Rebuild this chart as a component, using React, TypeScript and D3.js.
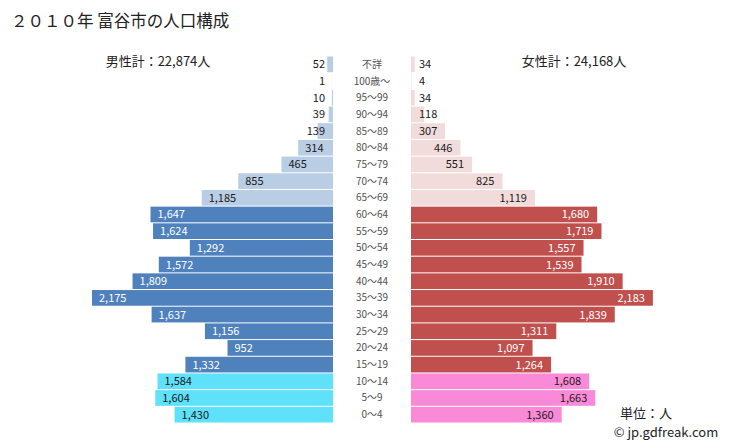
import React from "react";
import * as d3 from "d3";

const ageGroups = ["不詳", "100歳～", "95～99", "90～94", "85～89", "80～84", "75～79", "70～74", "65～69", "60～64", "55～59", "50～54", "45～49", "40～44", "35～39", "30～34", "25～29", "20～24", "15～19", "10～14", "5～9", "0～4"];
const maleValues = [52, 1, 10, 39, 139, 314, 465, 855, 1185, 1647, 1624, 1292, 1572, 1809, 2175, 1637, 1156, 952, 1332, 1584, 1604, 1430];
const femaleValues = [34, 4, 34, 118, 307, 446, 551, 825, 1119, 1680, 1719, 1557, 1539, 1910, 2183, 1839, 1311, 1097, 1264, 1608, 1663, 1360];
const title = "２０１０年 富谷市の人口構成";
const maleTotal = "男性計：22,874人";
const femaleTotal = "女性計：24,168人";

const W = 729, H = 446;
const maleRight = 333, femaleLeft = 411;
const FONT = "'Noto Sans CJK JP', 'Noto Sans', sans-serif";

function group(i: number) {
  if (i <= 8) return 0;
  if (i <= 18) return 1;
  return 2;
}
const maleColors = ["#b9cde5", "#4f81bd", "#5ee1f9"];
const femaleColors = ["#f2dcdb", "#c0504d", "#fa8ad8"];
const maleText = ["#1a1a1a", "#ffffff", "#1a1a1a"];
const femaleText = ["#1a1a1a", "#ffffff", "#1a1a1a"];

function fmt(v: number) { return d3.format(",")(v); }
function tw(s: string) { return s.length * 6.3; }

export default function App() {
  const y = d3.scaleBand<string>().domain(ageGroups).range([56, 423]).paddingInner(0.06).paddingOuter(0.03);
  const x = d3.scaleLinear().domain([0, 2175]).range([0, 241]);
  const bh = y.bandwidth();
  return (
    <svg width={W} height={H} style={{ position: "absolute", left: 0, top: 0, background: "#fff" }} fontFamily={FONT}>
      <text x={11} y={27} fontSize={16.5} fill="#222">{title}</text>
      <text x={158} y={66} fontSize={13} fill="#222" textAnchor="middle">{maleTotal}</text>
      <text x={574} y={66} fontSize={13} fill="#222" textAnchor="middle">{femaleTotal}</text>
      {ageGroups.map((a, i) => {
        const yy = y(a)!;
        const mv = maleValues[i], fv = femaleValues[i];
        const mw = x(mv), fw = x(fv);
        const g = group(i);
        const ml = fmt(mv), fl = fmt(fv);
        const mInside = mw >= tw(ml) + 14;
        const fInside = fw >= tw(fl) + 16;
        const cy = yy + bh / 2 + 4;
        return (
          <g key={a}>
            <rect x={maleRight - mw} y={yy} width={mw} height={bh} fill={maleColors[g]} />
            <rect x={femaleLeft} y={yy} width={fw} height={bh} fill={femaleColors[g]} />
            <text x={mInside ? maleRight - mw + 7 : maleRight - 8} y={cy} fontSize={11} textAnchor={mInside ? "start" : "end"} fill={mInside ? maleText[g] : "#1a1a1a"}>{ml}</text>
            <text x={fInside ? femaleLeft + fw - 8 : femaleLeft + 8} y={cy} fontSize={11} textAnchor={fInside ? "end" : "start"} fill={fInside ? femaleText[g] : "#1a1a1a"}>{fl}</text>
            <text x={372} y={cy - 0.5} fontSize={10} textAnchor="middle" fill="#505050">{a}</text>
          </g>
        );
      })}
      <text x={646} y={418} fontSize={13} textAnchor="middle" fill="#222">単位：人</text>
      <text x={666} y={437} fontSize={13} textAnchor="middle" fill="#222">© jp.gdfreak.com</text>
    </svg>
  );
}
